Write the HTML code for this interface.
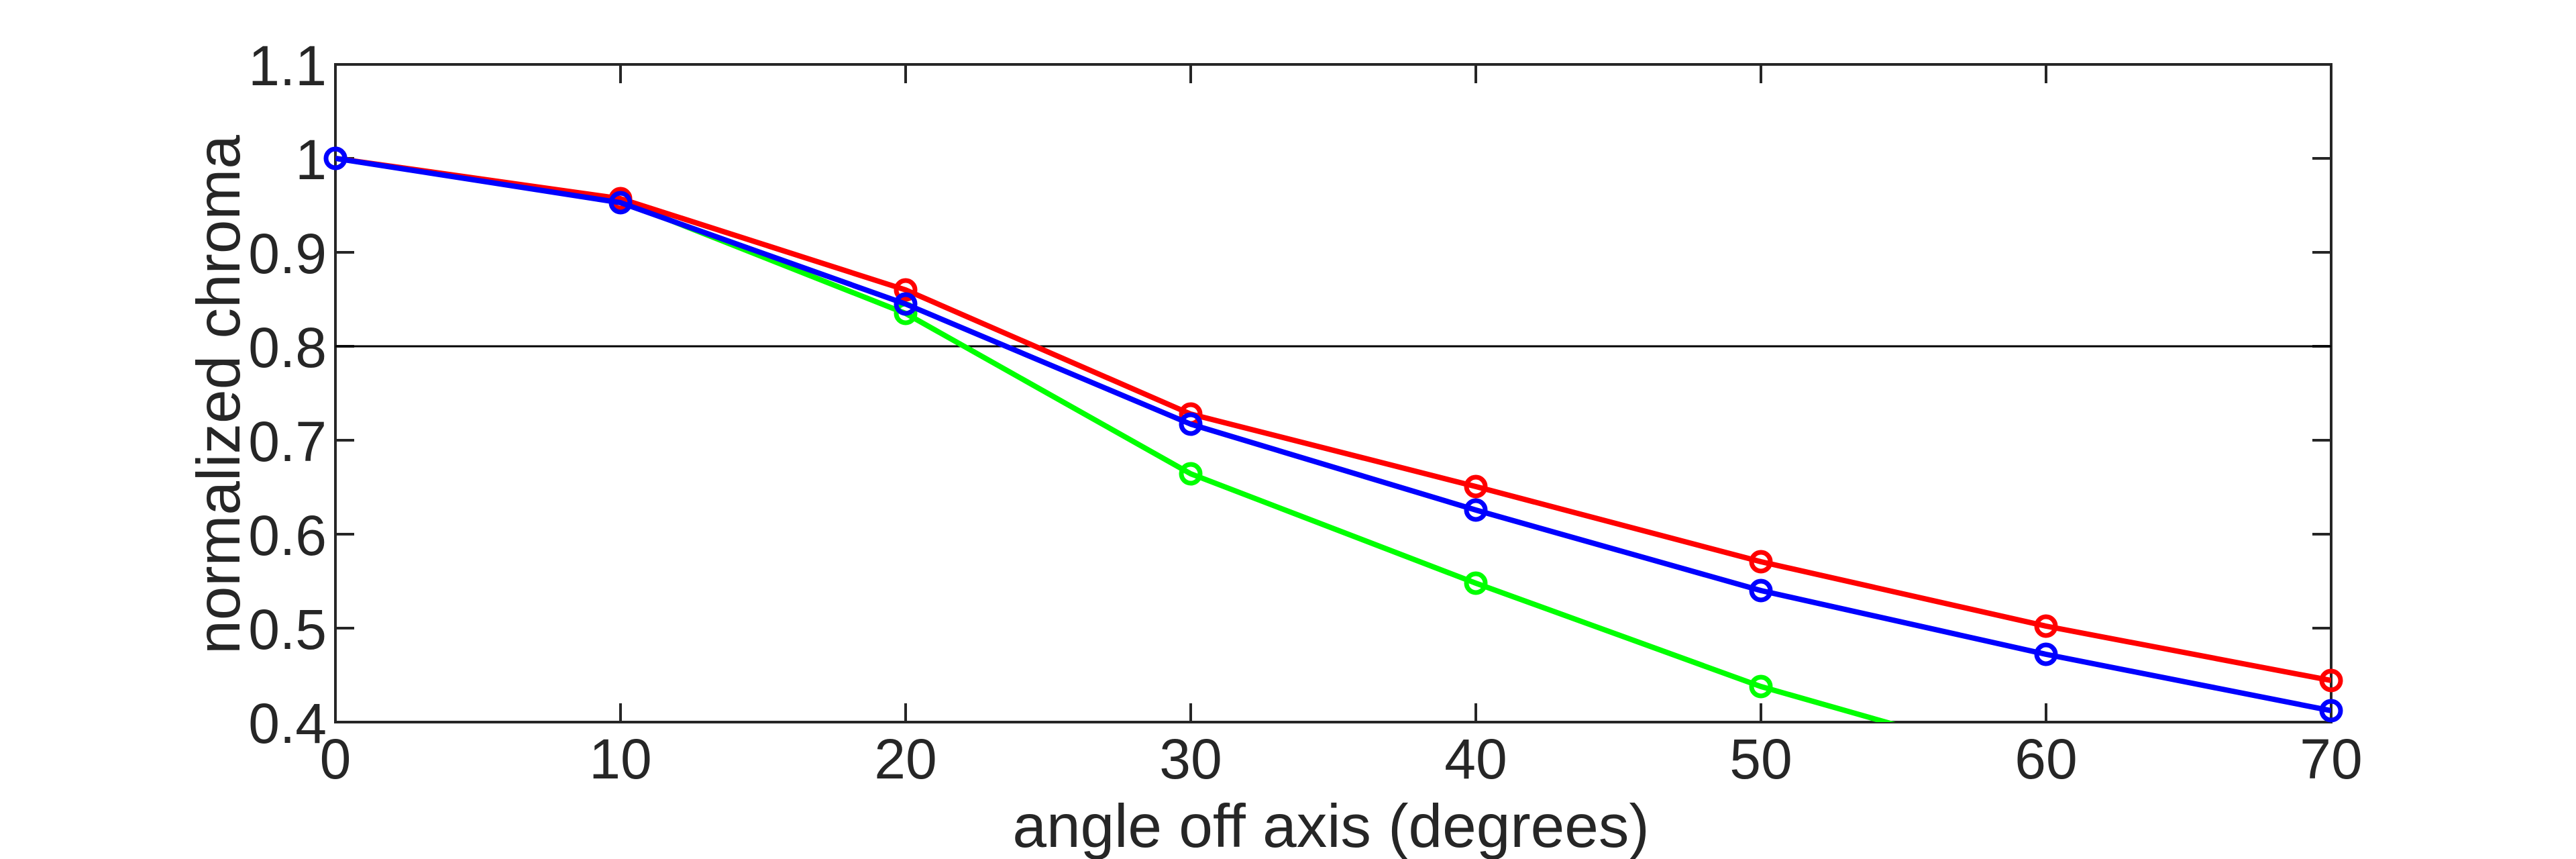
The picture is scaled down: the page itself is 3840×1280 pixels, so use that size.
<!DOCTYPE html>
<html><head><style>body{margin:0;background:#fff}svg{display:block}</style></head><body>
<svg width="3840" height="1280" xmlns="http://www.w3.org/2000/svg" font-family="Liberation Sans, sans-serif" fill="#262626">
<defs><clipPath id="c"><rect x="500" y="96" width="2975" height="980"/></clipPath></defs>
<rect width="3840" height="1280" fill="#fff"/>
<g stroke="#262626" stroke-width="4" fill="none">
<rect x="500" y="96" width="2975" height="980"/>
<path d="M925 1076v-28M1350 1076v-28M1775 1076v-28M2200 1076v-28M2625 1076v-28M3050 1076v-28
M925 96v28M1350 96v28M1775 96v28M2200 96v28M2625 96v28M3050 96v28
M500 236h28M500 376h28M500 516h28M500 656h28M500 796h28M500 936h28
M3475 236h-28M3475 376h-28M3475 516h-28M3475 656h-28M3475 796h-28M3475 936h-28"/>
<path d="M500 516H3475" stroke="#000" stroke-width="3"/>
</g>
<g font-size="84" text-anchor="end">
<text x="487" y="127">1.1</text><text x="487" y="267">1</text><text x="487" y="407">0.9</text>
<text x="487" y="547">0.8</text><text x="487" y="687">0.7</text><text x="487" y="827">0.6</text>
<text x="487" y="967">0.5</text><text x="487" y="1107">0.4</text>
</g>
<g font-size="84" text-anchor="middle">
<text x="500" y="1160">0</text><text x="925" y="1160">10</text><text x="1350" y="1160">20</text>
<text x="1775" y="1160">30</text><text x="2200" y="1160">40</text><text x="2625" y="1160">50</text>
<text x="3050" y="1160">60</text><text x="3475" y="1160">70</text>
<text x="1984" y="1262" font-size="91">angle off axis (degrees)</text>
<text transform="translate(357,588) rotate(-90)" font-size="91">normalized chroma</text>
</g>
<g clip-path="url(#c)" fill="none" stroke-width="8" stroke-linejoin="round">
<g stroke="#00ff00">
<polyline points="500,236 925,299 1350,467 1775,706 2200,869 2625,1023 3050,1144"/>
<g stroke-width="7"><circle cx="500" cy="236" r="14"/><circle cx="925" cy="299" r="14"/><circle cx="1350" cy="467" r="14"/><circle cx="1775" cy="706" r="14"/><circle cx="2200" cy="869" r="14"/><circle cx="2625" cy="1023" r="14"/></g>
</g>
<g stroke="#ff0000">
<polyline points="500,236 925,296 1350,432 1775,617 2200,725 2625,837 3050,933 3475,1014"/>
<g stroke-width="7"><circle cx="500" cy="236" r="14"/><circle cx="925" cy="296" r="14"/><circle cx="1350" cy="432" r="14"/><circle cx="1775" cy="617" r="14"/><circle cx="2200" cy="725" r="14"/><circle cx="2625" cy="837" r="14"/><circle cx="3050" cy="933" r="14"/></g>
</g>
<g stroke="#0000ff">
<polyline points="500,236 925,302 1350,453 1775,632 2200,760 2625,880 3050,975 3475,1059"/>
<g stroke-width="7"><circle cx="500" cy="236" r="14"/><circle cx="925" cy="302" r="14"/><circle cx="1350" cy="453" r="14"/><circle cx="1775" cy="632" r="14"/><circle cx="2200" cy="760" r="14"/><circle cx="2625" cy="880" r="14"/><circle cx="3050" cy="975" r="14"/></g>
</g>
</g>
<g fill="none" stroke-width="7">
<circle cx="3475" cy="1014" r="14" stroke="#ff0000"/>
<circle cx="3475" cy="1059" r="14" stroke="#0000ff"/>
<circle cx="500" cy="236" r="14" stroke="#0000ff"/>
</g>
</svg>
</body></html>
